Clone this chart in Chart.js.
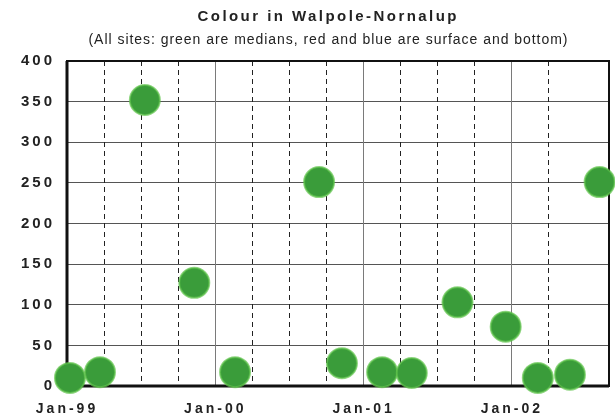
<!DOCTYPE html>
<html>
<head>
<meta charset="utf-8">
<script src="https://cdn.jsdelivr.net/npm/chart.js@4"></script>
<style>
  html, body { margin: 0; padding: 0; background: #fff; }
  #wrap { width: 615px; height: 419px; }
</style>
</head>
<body>
<div id="wrap"><canvas id="chart"></canvas></div>
<script>
// sampling times, in months after Jan 1999
const sampleMonth = [0.24, 2.67, 6.3, 10.3, 13.6, 20.4, 22.25, 25.5, 27.9, 31.6, 35.5, 38.1, 40.7, 43.1]
// median colour (TCU) for all sites
const medianColour = [10, 17, 352, 127, 17, 251, 28, 17, 16, 103, 73, 10, 14, 251]

const yearTicks = [0, 12, 24, 36]
const yearLabels = ["Jan-99", "Jan-00", "Jan-01", "Jan-02"]
const monthMax = 43.86

const titleText = "Colour in Walpole-Nornalup"
const subtitleText = "(All sites: green are medians, red and blue are surface and bottom)"

const FONT = "'Liberation Sans', Arial, sans-serif"

// draws a line of text stretched to a given width using letter spacing
function spacedText(ctx, text, cx, y, width) {
  ctx.letterSpacing = "0px"
  let natural = ctx.measureText(text).width
  let sp = (width - natural) / (text.length - 1)
  ctx.letterSpacing = sp + "px"
  ctx.textAlign = "left"
  ctx.fillText(text, cx - width / 2, y)
}

const framePlugin = {
  id: "frame",
  beforeDraw(chart) {
    let ctx = chart.ctx
    ctx.save()
    ctx.fillStyle = "#fff"
    ctx.fillRect(0, 0, chart.width, chart.height)
    ctx.restore()
    // tick labels are letter spaced
    ctx.letterSpacing = "3px"
  },
  beforeDatasetsDraw(chart) {
    let ctx = chart.ctx
    let a = chart.chartArea
    ctx.save()
    ctx.strokeStyle = "#111"
    ctx.lineWidth = 2
    ctx.strokeRect(a.left, a.top, a.right - a.left, a.bottom - a.top)
    ctx.lineWidth = 3
    ctx.beginPath()
    ctx.moveTo(a.left, a.top)
    ctx.lineTo(a.left, a.bottom)
    ctx.lineTo(a.right, a.bottom)
    ctx.stroke()
    ctx.restore()
  },
  afterDraw(chart) {
    let ctx = chart.ctx
    ctx.save()
    ctx.fillStyle = "#222"
    ctx.textBaseline = "alphabetic"
    ctx.font = "bold 15px " + FONT
    spacedText(ctx, titleText, 327, 21, 259)
    ctx.font = "14px " + FONT
    spacedText(ctx, subtitleText, 328, 44, 479)
    ctx.restore()
    ctx.letterSpacing = "0px"
  }
}

new Chart(document.getElementById("chart"), {
  type: "scatter",
  data: {
    datasets: [{
      label: "Median",
      data: sampleMonth.map((m, i) => ({ x: m, y: medianColour[i] })),
      backgroundColor: "rgb(58,156,58)",
      borderColor: "rgba(95,195,75,0.7)",
      borderWidth: 2,
      pointRadius: 15,
      pointHoverRadius: 15,
      clip: false
    }]
  },
  options: {
    responsive: true,
    maintainAspectRatio: false,
    animation: false,
    events: [],
    layout: { autoPadding: false, padding: { top: 61, right: 6, left: 0, bottom: 0 } },
    plugins: {
      legend: { display: false },
      title: { display: false },
      tooltip: { enabled: false }
    },
    scales: {
      y: {
        min: 0,
        max: 400,
        ticks: { stepSize: 50, font: { family: FONT, weight: "bold", size: 15 }, color: "#222", padding: 12 },
        grid: { color: "#555", drawTicks: false },
        border: { display: false },
        afterFit(s) { s.width = 67 }
      },
      // quarterly dashed lines
      x: {
        type: "linear",
        position: "bottom",
        min: 0,
        max: monthMax,
        ticks: { stepSize: 3, display: false },
        grid: {
          drawTicks: false,
          color: c => (c.tick && c.tick.value % 12 === 0) ? "rgba(0,0,0,0)" : "#222"
        },
        border: { display: false, dash: [5, 4] },
        afterFit(s) { s.height = 0 }
      },
      // yearly solid lines and labels
      xYear: {
        type: "linear",
        position: "bottom",
        min: 0,
        max: monthMax,
        afterBuildTicks(s) { s.ticks = yearTicks.map(v => ({ value: v })) },
        ticks: {
          font: { family: FONT, weight: "bold", size: 14 },
          color: "#222",
          padding: 15,
          maxRotation: 0,
          autoSkip: false,
          callback: v => yearLabels[yearTicks.indexOf(v)] || ""
        },
        grid: { color: "#7a7a7a", drawTicks: false },
        border: { display: false },
        afterFit(s) { s.height = 33 }
      }
    }
  },
  plugins: [framePlugin]
})
</script>
</body>
</html>
